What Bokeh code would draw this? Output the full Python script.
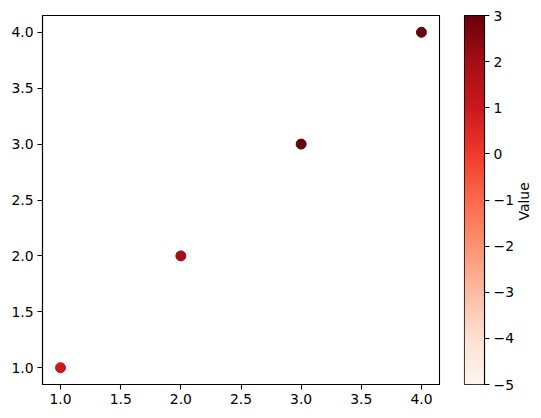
import math
import numpy as np
from bokeh.plotting import figure
from bokeh.layouts import row
from bokeh.models import LinearColorMapper, FixedTicker, Range1d, NumeralTickFormatter, ColumnDataSource, Label
from bokeh.palettes import Reds256
from bokeh.embed import file_html
from bokeh.resources import INLINE

# data
x_vals = [1, 2, 3, 4]
y_vals = [1, 2, 3, 4]
c_vals = [1, 2, 3, 4]
c_low, c_high = -5, 3
x_ticks = [1.0, 1.5, 2.0, 2.5, 3.0, 3.5, 4.0]
y_ticks = [1.0, 1.5, 2.0, 2.5, 3.0, 3.5, 4.0]
cb_ticks = [-5, -4, -3, -2, -1, 0, 1, 2, 3]
cb_label = "Value"

palette = list(reversed(Reds256))
mapper = LinearColorMapper(palette=palette, low=c_low, high=c_high)

FONT = "DejaVu Sans"
FS = "13.9px"

def style_axis(ax):
    ax.major_label_text_font = FONT
    ax.major_label_text_font_size = FS
    ax.major_label_text_color = "black"
    ax.axis_line_color = "black"
    ax.axis_line_width = 1.1
    ax.major_tick_line_color = "black"
    ax.major_tick_line_width = 1.1
    ax.major_tick_in = 0
    ax.major_tick_out = 5
    ax.minor_tick_line_color = None
    ax.major_label_standoff = 4

src = ColumnDataSource(dict(x=x_vals, y=y_vals, c=c_vals))

p = figure(width=449, height=418, output_backend="svg", toolbar_location=None,
           x_range=Range1d(0.85, 4.15), y_range=Range1d(0.85, 4.15),
           min_border_left=42, min_border_right=10, min_border_top=15, min_border_bottom=34)
p.scatter("x", "y", source=src, size=10,
          fill_color={"field": "c", "transform": mapper},
          line_color={"field": "c", "transform": mapper})
p.xgrid.visible = False
p.ygrid.visible = False
p.outline_line_color = "black"
p.outline_line_width = 1.1
p.xaxis.ticker = FixedTicker(ticks=x_ticks)
p.yaxis.ticker = FixedTicker(ticks=y_ticks)
p.xaxis.formatter = NumeralTickFormatter(format="0.0")
p.yaxis.formatter = NumeralTickFormatter(format="0.0")
style_axis(p.xaxis[0])
style_axis(p.yaxis[0])

# colorbar as a separate figure
cb = figure(frame_width=20, frame_height=369, output_backend="svg", toolbar_location=None,
            x_range=Range1d(0, 1), y_range=Range1d(c_low, c_high),
            y_axis_location="right",
            min_border_left=15, min_border_right=26, min_border_top=15, min_border_bottom=34)
grad = np.linspace(c_low, c_high, 256).reshape(-1, 1)
cb.image(image=[grad], x=0, y=c_low, dw=1, dh=c_high - c_low, color_mapper=mapper)
cb.xaxis.visible = False
cb.xgrid.visible = False
cb.ygrid.visible = False
cb.outline_line_color = "black"
cb.outline_line_width = 1.1
ax = cb.yaxis[0]
ax.ticker = FixedTicker(ticks=cb_ticks)
ax.major_label_overrides = {t: (str(t).replace("-", "\u2212")) for t in cb_ticks}
style_axis(ax)

# colorbar label in its own narrow panel
lab = figure(frame_width=31, frame_height=369, output_backend="svg", toolbar_location=None,
             x_range=Range1d(0, 1), y_range=Range1d(c_low, c_high),
             min_border_left=0, min_border_right=0, min_border_top=15, min_border_bottom=34)
lab.xaxis.visible = False
lab.yaxis.visible = False
lab.xgrid.visible = False
lab.ygrid.visible = False
lab.outline_line_color = None
lbl = Label(x=7 / 31, y=(c_low + c_high) / 2 - 0.03, text=cb_label, angle=math.pi / 2,
            text_align="center", text_baseline="middle",
            text_font=FONT, text_font_size=FS, text_color="black")
lab.add_layout(lbl)

layout = row(p, cb, lab, spacing=0)
open("out.html", "w").write(file_html(layout, INLINE))
